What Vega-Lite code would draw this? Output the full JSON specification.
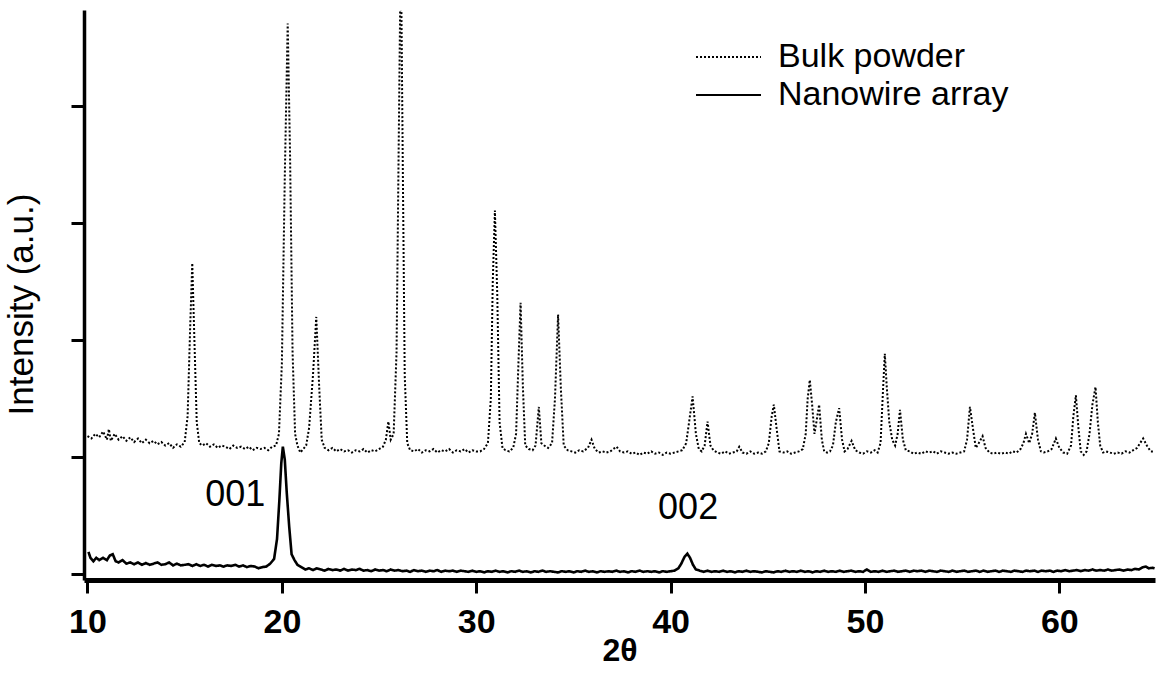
{
  "$schema": "https://vega.github.io/schema/vega-lite/v6.json",
  "width": 1071,
  "height": 570,
  "autosize": {"type": "none"},
  "padding": {"left": 84, "top": 10, "right": 4, "bottom": 96},
  "background": "white",
  "config": {"view": {"stroke": null}, "font": "Liberation Sans"},
  "datasets": {
    "bulk": [
      {"t":10.0,"i":1.18},{"t":10.2,"i":1.16},{"t":10.4,"i":1.2},{"t":10.6,"i":1.17},{"t":10.8,"i":1.22},{"t":11.0,"i":1.15},{"t":11.1,"i":1.24},{"t":11.2,"i":1.14},{"t":11.4,"i":1.2},{"t":11.6,"i":1.15},{"t":11.8,"i":1.18},{"t":12.0,"i":1.14},{"t":12.2,"i":1.17},{"t":12.4,"i":1.13},{"t":12.6,"i":1.16},{"t":12.8,"i":1.12},{"t":13.0,"i":1.15},{"t":13.2,"i":1.12},{"t":13.4,"i":1.14},{"t":13.6,"i":1.11},{"t":13.8,"i":1.13},{"t":14.0,"i":1.1},{"t":14.2,"i":1.12},{"t":14.4,"i":1.08},{"t":14.6,"i":1.11},{"t":14.8,"i":1.09},{"t":15.0,"i":1.13},{"t":15.15,"i":1.35},{"t":15.28,"i":2.1},{"t":15.39,"i":2.66},{"t":15.5,"i":2.0},{"t":15.62,"i":1.3},{"t":15.75,"i":1.12},{"t":15.9,"i":1.1},{"t":16.1,"i":1.12},{"t":16.3,"i":1.09},{"t":16.5,"i":1.11},{"t":16.7,"i":1.08},{"t":16.9,"i":1.1},{"t":17.1,"i":1.09},{"t":17.3,"i":1.07},{"t":17.5,"i":1.1},{"t":17.7,"i":1.08},{"t":17.9,"i":1.09},{"t":18.1,"i":1.07},{"t":18.3,"i":1.09},{"t":18.5,"i":1.06},{"t":18.7,"i":1.08},{"t":18.9,"i":1.07},{"t":19.1,"i":1.08},{"t":19.3,"i":1.06},{"t":19.5,"i":1.09},{"t":19.7,"i":1.1},{"t":19.85,"i":1.2},{"t":20.0,"i":1.8},{"t":20.15,"i":3.4},{"t":20.3,"i":4.71},{"t":20.42,"i":3.6},{"t":20.55,"i":1.9},{"t":20.68,"i":1.2},{"t":20.8,"i":1.1},{"t":20.95,"i":1.04},{"t":21.1,"i":1.07},{"t":21.25,"i":1.1},{"t":21.4,"i":1.25},{"t":21.6,"i":1.7},{"t":21.77,"i":2.2},{"t":21.92,"i":1.6},{"t":22.05,"i":1.15},{"t":22.2,"i":1.08},{"t":22.4,"i":1.06},{"t":22.6,"i":1.08},{"t":22.8,"i":1.05},{"t":23.0,"i":1.07},{"t":23.2,"i":1.05},{"t":23.4,"i":1.06},{"t":23.6,"i":1.04},{"t":23.8,"i":1.06},{"t":24.0,"i":1.05},{"t":24.2,"i":1.07},{"t":24.4,"i":1.04},{"t":24.6,"i":1.06},{"t":24.8,"i":1.05},{"t":25.0,"i":1.07},{"t":25.2,"i":1.09},{"t":25.35,"i":1.15},{"t":25.48,"i":1.305},{"t":25.6,"i":1.15},{"t":25.75,"i":1.2},{"t":25.9,"i":1.9},{"t":26.0,"i":3.5},{"t":26.12,"i":5.4},{"t":26.22,"i":3.5},{"t":26.32,"i":1.7},{"t":26.45,"i":1.12},{"t":26.6,"i":1.06},{"t":26.8,"i":1.05},{"t":27.0,"i":1.07},{"t":27.2,"i":1.04},{"t":27.4,"i":1.06},{"t":27.6,"i":1.05},{"t":27.8,"i":1.07},{"t":28.0,"i":1.04},{"t":28.2,"i":1.06},{"t":28.4,"i":1.05},{"t":28.6,"i":1.07},{"t":28.8,"i":1.04},{"t":29.0,"i":1.06},{"t":29.2,"i":1.05},{"t":29.4,"i":1.07},{"t":29.6,"i":1.04},{"t":29.8,"i":1.06},{"t":30.0,"i":1.05},{"t":30.2,"i":1.05},{"t":30.4,"i":1.07},{"t":30.6,"i":1.12},{"t":30.75,"i":1.5},{"t":30.85,"i":2.5},{"t":30.96,"i":3.11},{"t":31.08,"i":2.4},{"t":31.2,"i":1.3},{"t":31.35,"i":1.08},{"t":31.5,"i":1.06},{"t":31.7,"i":1.05},{"t":31.9,"i":1.08},{"t":32.05,"i":1.2},{"t":32.17,"i":1.8},{"t":32.28,"i":2.32},{"t":32.4,"i":1.6},{"t":32.52,"i":1.1},{"t":32.7,"i":1.07},{"t":32.9,"i":1.06},{"t":33.05,"i":1.1},{"t":33.22,"i":1.43},{"t":33.35,"i":1.12},{"t":33.5,"i":1.1},{"t":33.7,"i":1.08},{"t":33.9,"i":1.12},{"t":34.05,"i":1.5},{"t":34.21,"i":2.22},{"t":34.35,"i":1.6},{"t":34.5,"i":1.1},{"t":34.7,"i":1.06},{"t":34.9,"i":1.05},{"t":35.1,"i":1.04},{"t":35.3,"i":1.06},{"t":35.5,"i":1.05},{"t":35.75,"i":1.08},{"t":35.93,"i":1.15},{"t":36.1,"i":1.07},{"t":36.3,"i":1.04},{"t":36.5,"i":1.05},{"t":36.7,"i":1.04},{"t":36.9,"i":1.05},{"t":37.05,"i":1.07},{"t":37.22,"i":1.09},{"t":37.4,"i":1.05},{"t":37.6,"i":1.04},{"t":37.8,"i":1.05},{"t":38.0,"i":1.03},{"t":38.2,"i":1.04},{"t":38.4,"i":1.02},{"t":38.6,"i":1.04},{"t":38.8,"i":1.03},{"t":39.0,"i":1.05},{"t":39.2,"i":1.03},{"t":39.4,"i":1.04},{"t":39.6,"i":1.02},{"t":39.8,"i":1.04},{"t":40.0,"i":1.03},{"t":40.2,"i":1.04},{"t":40.4,"i":1.05},{"t":40.6,"i":1.06},{"t":40.8,"i":1.12},{"t":40.95,"i":1.3},{"t":41.13,"i":1.52},{"t":41.3,"i":1.2},{"t":41.45,"i":1.07},{"t":41.6,"i":1.05},{"t":41.75,"i":1.1},{"t":41.9,"i":1.305},{"t":42.05,"i":1.1},{"t":42.2,"i":1.06},{"t":42.4,"i":1.04},{"t":42.6,"i":1.03},{"t":42.8,"i":1.05},{"t":43.0,"i":1.03},{"t":43.2,"i":1.04},{"t":43.4,"i":1.05},{"t":43.53,"i":1.09},{"t":43.7,"i":1.04},{"t":43.9,"i":1.03},{"t":44.1,"i":1.05},{"t":44.3,"i":1.03},{"t":44.5,"i":1.04},{"t":44.7,"i":1.03},{"t":44.9,"i":1.05},{"t":45.05,"i":1.12},{"t":45.2,"i":1.35},{"t":45.31,"i":1.45},{"t":45.45,"i":1.25},{"t":45.6,"i":1.05},{"t":45.8,"i":1.04},{"t":46.0,"i":1.05},{"t":46.2,"i":1.03},{"t":46.4,"i":1.04},{"t":46.6,"i":1.05},{"t":46.8,"i":1.07},{"t":46.95,"i":1.2},{"t":47.05,"i":1.5},{"t":47.16,"i":1.66},{"t":47.28,"i":1.45},{"t":47.4,"i":1.2},{"t":47.5,"i":1.3},{"t":47.64,"i":1.45},{"t":47.78,"i":1.15},{"t":47.9,"i":1.05},{"t":48.05,"i":1.04},{"t":48.2,"i":1.05},{"t":48.35,"i":1.1},{"t":48.5,"i":1.3},{"t":48.67,"i":1.42},{"t":48.82,"i":1.15},{"t":48.95,"i":1.05},{"t":49.1,"i":1.07},{"t":49.31,"i":1.14},{"t":49.5,"i":1.06},{"t":49.7,"i":1.04},{"t":49.9,"i":1.03},{"t":50.1,"i":1.05},{"t":50.3,"i":1.04},{"t":50.5,"i":1.06},{"t":50.65,"i":1.04},{"t":50.8,"i":1.12},{"t":50.92,"i":1.55},{"t":51.02,"i":1.885},{"t":51.12,"i":1.6},{"t":51.25,"i":1.3},{"t":51.4,"i":1.15},{"t":51.55,"i":1.1},{"t":51.68,"i":1.2},{"t":51.8,"i":1.405},{"t":51.95,"i":1.15},{"t":52.1,"i":1.06},{"t":52.3,"i":1.05},{"t":52.5,"i":1.03},{"t":52.7,"i":1.04},{"t":52.9,"i":1.03},{"t":53.1,"i":1.05},{"t":53.3,"i":1.04},{"t":53.5,"i":1.05},{"t":53.7,"i":1.03},{"t":53.9,"i":1.05},{"t":54.1,"i":1.04},{"t":54.3,"i":1.03},{"t":54.5,"i":1.04},{"t":54.7,"i":1.03},{"t":54.9,"i":1.04},{"t":55.1,"i":1.05},{"t":55.25,"i":1.15},{"t":55.4,"i":1.43},{"t":55.55,"i":1.25},{"t":55.7,"i":1.08},{"t":55.85,"i":1.12},{"t":56.05,"i":1.18},{"t":56.2,"i":1.08},{"t":56.4,"i":1.04},{"t":56.6,"i":1.03},{"t":56.8,"i":1.04},{"t":57.0,"i":1.03},{"t":57.2,"i":1.04},{"t":57.4,"i":1.03},{"t":57.6,"i":1.05},{"t":57.8,"i":1.04},{"t":58.0,"i":1.07},{"t":58.15,"i":1.12},{"t":58.28,"i":1.2},{"t":58.45,"i":1.12},{"t":58.6,"i":1.2},{"t":58.74,"i":1.38},{"t":58.9,"i":1.15},{"t":59.05,"i":1.05},{"t":59.2,"i":1.04},{"t":59.4,"i":1.05},{"t":59.6,"i":1.07},{"t":59.82,"i":1.16},{"t":60.0,"i":1.08},{"t":60.2,"i":1.04},{"t":60.4,"i":1.03},{"t":60.6,"i":1.1},{"t":60.72,"i":1.35},{"t":60.85,"i":1.53},{"t":60.98,"i":1.25},{"t":61.1,"i":1.05},{"t":61.25,"i":1.02},{"t":61.4,"i":1.05},{"t":61.55,"i":1.2},{"t":61.7,"i":1.45},{"t":61.86,"i":1.6},{"t":61.98,"i":1.3},{"t":62.1,"i":1.1},{"t":62.25,"i":1.04},{"t":62.4,"i":1.05},{"t":62.6,"i":1.04},{"t":62.8,"i":1.03},{"t":63.0,"i":1.04},{"t":63.2,"i":1.03},{"t":63.4,"i":1.05},{"t":63.6,"i":1.04},{"t":63.8,"i":1.06},{"t":64.0,"i":1.08},{"t":64.15,"i":1.12},{"t":64.31,"i":1.16},{"t":64.5,"i":1.1},{"t":64.7,"i":1.05},{"t":64.9,"i":1.05}
    ],
    "nano": [
      {"t":10.05,"i":0.19},{"t":10.15,"i":0.14},{"t":10.3,"i":0.11},{"t":10.45,"i":0.14},{"t":10.6,"i":0.12},{"t":10.8,"i":0.14},{"t":11.0,"i":0.12},{"t":11.15,"i":0.16},{"t":11.3,"i":0.17},{"t":11.45,"i":0.11},{"t":11.6,"i":0.1},{"t":11.8,"i":0.12},{"t":12.0,"i":0.09},{"t":12.2,"i":0.1},{"t":12.4,"i":0.085},{"t":12.6,"i":0.1},{"t":12.8,"i":0.08},{"t":13.0,"i":0.095},{"t":13.2,"i":0.08},{"t":13.4,"i":0.09},{"t":13.6,"i":0.1},{"t":13.8,"i":0.08},{"t":14.0,"i":0.085},{"t":14.2,"i":0.1},{"t":14.4,"i":0.075},{"t":14.6,"i":0.09},{"t":14.8,"i":0.075},{"t":15.0,"i":0.08},{"t":15.2,"i":0.085},{"t":15.4,"i":0.07},{"t":15.6,"i":0.085},{"t":15.8,"i":0.07},{"t":16.0,"i":0.08},{"t":16.2,"i":0.065},{"t":16.4,"i":0.08},{"t":16.6,"i":0.07},{"t":16.8,"i":0.075},{"t":17.0,"i":0.065},{"t":17.2,"i":0.075},{"t":17.4,"i":0.07},{"t":17.6,"i":0.08},{"t":17.8,"i":0.065},{"t":18.0,"i":0.075},{"t":18.2,"i":0.06},{"t":18.4,"i":0.07},{"t":18.6,"i":0.065},{"t":18.8,"i":0.05},{"t":19.0,"i":0.06},{"t":19.2,"i":0.065},{"t":19.4,"i":0.09},{"t":19.6,"i":0.13},{"t":19.75,"i":0.3},{"t":19.87,"i":0.63},{"t":19.97,"i":0.95},{"t":20.05,"i":1.09},{"t":20.15,"i":0.98},{"t":20.25,"i":0.7},{"t":20.38,"i":0.4},{"t":20.5,"i":0.17},{"t":20.65,"i":0.12},{"t":20.8,"i":0.08},{"t":21.0,"i":0.06},{"t":21.2,"i":0.04},{"t":21.4,"i":0.05},{"t":21.6,"i":0.035},{"t":21.8,"i":0.05},{"t":22.0,"i":0.04},{"t":22.2,"i":0.03},{"t":22.4,"i":0.045},{"t":22.6,"i":0.035},{"t":22.8,"i":0.04},{"t":23.0,"i":0.03},{"t":23.2,"i":0.045},{"t":23.4,"i":0.03},{"t":23.6,"i":0.04},{"t":23.8,"i":0.035},{"t":24.0,"i":0.045},{"t":24.2,"i":0.03},{"t":24.4,"i":0.035},{"t":24.6,"i":0.025},{"t":24.8,"i":0.04},{"t":25.0,"i":0.03},{"t":25.2,"i":0.035},{"t":25.4,"i":0.025},{"t":25.6,"i":0.04},{"t":25.8,"i":0.03},{"t":26.0,"i":0.035},{"t":26.2,"i":0.025},{"t":26.4,"i":0.03},{"t":26.6,"i":0.02},{"t":26.8,"i":0.035},{"t":27.0,"i":0.025},{"t":27.2,"i":0.03},{"t":27.4,"i":0.02},{"t":27.6,"i":0.03},{"t":27.8,"i":0.025},{"t":28.0,"i":0.035},{"t":28.2,"i":0.02},{"t":28.4,"i":0.03},{"t":28.6,"i":0.025},{"t":28.8,"i":0.03},{"t":29.0,"i":0.02},{"t":29.2,"i":0.03},{"t":29.4,"i":0.025},{"t":29.6,"i":0.02},{"t":29.8,"i":0.03},{"t":30.0,"i":0.02},{"t":30.2,"i":0.025},{"t":30.4,"i":0.015},{"t":30.6,"i":0.025},{"t":30.8,"i":0.02},{"t":31.0,"i":0.03},{"t":31.2,"i":0.02},{"t":31.4,"i":0.025},{"t":31.6,"i":0.015},{"t":31.8,"i":0.025},{"t":32.0,"i":0.02},{"t":32.2,"i":0.03},{"t":32.4,"i":0.02},{"t":32.6,"i":0.025},{"t":32.8,"i":0.015},{"t":33.0,"i":0.025},{"t":33.2,"i":0.02},{"t":33.4,"i":0.03},{"t":33.6,"i":0.02},{"t":33.8,"i":0.025},{"t":34.0,"i":0.02},{"t":34.2,"i":0.015},{"t":34.4,"i":0.025},{"t":34.6,"i":0.02},{"t":34.8,"i":0.025},{"t":35.0,"i":0.015},{"t":35.2,"i":0.025},{"t":35.4,"i":0.02},{"t":35.6,"i":0.03},{"t":35.8,"i":0.02},{"t":36.0,"i":0.025},{"t":36.2,"i":0.015},{"t":36.4,"i":0.025},{"t":36.6,"i":0.02},{"t":36.8,"i":0.025},{"t":37.0,"i":0.02},{"t":37.2,"i":0.03},{"t":37.4,"i":0.02},{"t":37.6,"i":0.025},{"t":37.8,"i":0.015},{"t":38.0,"i":0.025},{"t":38.2,"i":0.02},{"t":38.4,"i":0.03},{"t":38.6,"i":0.02},{"t":38.8,"i":0.025},{"t":39.0,"i":0.02},{"t":39.2,"i":0.025},{"t":39.4,"i":0.015},{"t":39.6,"i":0.025},{"t":39.8,"i":0.02},{"t":40.0,"i":0.025},{"t":40.2,"i":0.03},{"t":40.4,"i":0.05},{"t":40.55,"i":0.09},{"t":40.72,"i":0.15},{"t":40.86,"i":0.175},{"t":41.0,"i":0.14},{"t":41.15,"i":0.08},{"t":41.3,"i":0.04},{"t":41.5,"i":0.03},{"t":41.7,"i":0.02},{"t":41.9,"i":0.03},{"t":42.1,"i":0.02},{"t":42.3,"i":0.025},{"t":42.5,"i":0.02},{"t":42.7,"i":0.03},{"t":42.9,"i":0.02},{"t":43.1,"i":0.025},{"t":43.3,"i":0.015},{"t":43.5,"i":0.025},{"t":43.7,"i":0.02},{"t":43.9,"i":0.03},{"t":44.1,"i":0.02},{"t":44.3,"i":0.025},{"t":44.5,"i":0.02},{"t":44.7,"i":0.015},{"t":44.9,"i":0.025},{"t":45.1,"i":0.02},{"t":45.3,"i":0.015},{"t":45.5,"i":0.025},{"t":45.7,"i":0.02},{"t":45.9,"i":0.03},{"t":46.1,"i":0.02},{"t":46.3,"i":0.025},{"t":46.5,"i":0.02},{"t":46.7,"i":0.03},{"t":46.9,"i":0.02},{"t":47.1,"i":0.025},{"t":47.3,"i":0.015},{"t":47.5,"i":0.025},{"t":47.7,"i":0.02},{"t":47.9,"i":0.03},{"t":48.1,"i":0.02},{"t":48.3,"i":0.025},{"t":48.5,"i":0.02},{"t":48.7,"i":0.03},{"t":48.9,"i":0.02},{"t":49.1,"i":0.025},{"t":49.3,"i":0.03},{"t":49.5,"i":0.02},{"t":49.7,"i":0.025},{"t":49.9,"i":0.02},{"t":50.1,"i":0.04},{"t":50.3,"i":0.02},{"t":50.5,"i":0.025},{"t":50.7,"i":0.02},{"t":50.9,"i":0.03},{"t":51.1,"i":0.02},{"t":51.3,"i":0.025},{"t":51.5,"i":0.03},{"t":51.7,"i":0.02},{"t":51.9,"i":0.025},{"t":52.1,"i":0.03},{"t":52.3,"i":0.02},{"t":52.5,"i":0.03},{"t":52.7,"i":0.025},{"t":52.9,"i":0.03},{"t":53.1,"i":0.02},{"t":53.3,"i":0.03},{"t":53.5,"i":0.025},{"t":53.7,"i":0.02},{"t":53.9,"i":0.03},{"t":54.1,"i":0.025},{"t":54.3,"i":0.02},{"t":54.5,"i":0.03},{"t":54.7,"i":0.02},{"t":54.9,"i":0.025},{"t":55.1,"i":0.03},{"t":55.3,"i":0.02},{"t":55.5,"i":0.025},{"t":55.7,"i":0.03},{"t":55.9,"i":0.02},{"t":56.1,"i":0.03},{"t":56.3,"i":0.02},{"t":56.5,"i":0.025},{"t":56.7,"i":0.03},{"t":56.9,"i":0.02},{"t":57.1,"i":0.03},{"t":57.3,"i":0.025},{"t":57.5,"i":0.02},{"t":57.7,"i":0.03},{"t":57.9,"i":0.025},{"t":58.1,"i":0.02},{"t":58.3,"i":0.03},{"t":58.5,"i":0.025},{"t":58.7,"i":0.03},{"t":58.9,"i":0.02},{"t":59.1,"i":0.03},{"t":59.3,"i":0.025},{"t":59.5,"i":0.03},{"t":59.7,"i":0.02},{"t":59.9,"i":0.03},{"t":60.1,"i":0.025},{"t":60.3,"i":0.035},{"t":60.5,"i":0.025},{"t":60.7,"i":0.03},{"t":60.9,"i":0.035},{"t":61.1,"i":0.025},{"t":61.3,"i":0.035},{"t":61.5,"i":0.03},{"t":61.7,"i":0.04},{"t":61.9,"i":0.03},{"t":62.1,"i":0.035},{"t":62.3,"i":0.03},{"t":62.5,"i":0.04},{"t":62.7,"i":0.03},{"t":62.9,"i":0.035},{"t":63.1,"i":0.04},{"t":63.3,"i":0.03},{"t":63.5,"i":0.04},{"t":63.7,"i":0.035},{"t":63.9,"i":0.045},{"t":64.1,"i":0.04},{"t":64.3,"i":0.06},{"t":64.45,"i":0.065},{"t":64.6,"i":0.05},{"t":64.8,"i":0.055},{"t":64.9,"i":0.05}
    ],
    "labels": [
      {"t":17.6,"i":0.675,"label":"001"},
      {"t":40.9,"i":0.565,"label":"002"}
    ]
  },
  "encoding": {
    "x": {
      "field": "t", "type": "quantitative",
      "scale": {"domain": [9.82, 64.92], "nice": false, "zero": false},
      "axis": {
        "values": [10, 20, 30, 40, 50, 60],
        "grid": false,
        "title": "2θ",
        "titleFont": "Liberation Sans", "titleFontSize": 32, "titleFontWeight": "bold", "titleColor": "black", "titlePadding": -4,
        "labelFont": "Liberation Sans", "labelFontSize": 34, "labelFontWeight": "bold", "labelColor": "black", "labelPadding": 12,
        "labelFlush": false,
        "domainColor": "black", "domainWidth": 5,
        "tickColor": "black", "tickWidth": 3, "tickSize": 13
      }
    },
    "y": {
      "field": "i", "type": "quantitative",
      "scale": {"domain": [-0.05, 4.825], "nice": false, "zero": false},
      "axis": {
        "values": [0, 1, 2, 3, 4],
        "grid": false,
        "labels": false,
        "title": "Intensity (a.u.)",
        "titleFont": "Liberation Sans", "titleFontSize": 35, "titleFontWeight": "normal", "titleColor": "black", "titlePadding": 30,
        "titleY": 294,
        "domainColor": "black", "domainWidth": 3.5,
        "tickColor": "black", "tickWidth": 3, "tickSize": 13
      }
    }
  },
  "layer": [
    {
      "data": {"name": "bulk"},
      "mark": {"type": "line", "color": "black", "strokeWidth": 2, "clip": true},
      "encoding": {
        "strokeDash": {
          "datum": "Bulk powder",
          "scale": {"domain": ["Bulk powder", "Nanowire array"], "range": [[2, 2], [1, 0]]},
          "legend": {
            "title": null,
            "orient": "none",
            "legendX": 611,
            "legendY": 30,
            "symbolType": "stroke",
            "symbolSize": 4225,
            "symbolStrokeWidth": 2,
            "symbolStrokeColor": "black",
            "labelFont": "Liberation Sans",
            "labelFontSize": 34,
            "labelColor": "black",
            "labelLimit": 500,
            "labelOffset": 16,
            "clipHeight": 34,
            "rowPadding": 4,
            "padding": 0
          }
        }
      }
    },
    {
      "data": {"name": "nano"},
      "mark": {"type": "line", "color": "black", "strokeWidth": 2.6, "clip": true},
      "encoding": {
        "strokeDash": {"datum": "Nanowire array"}
      }
    },
    {
      "data": {"name": "labels"},
      "mark": {"type": "text", "font": "Liberation Sans", "fontSize": 36, "color": "black", "align": "center", "baseline": "middle"},
      "encoding": {
        "text": {"field": "label"}
      }
    }
  ]
}
